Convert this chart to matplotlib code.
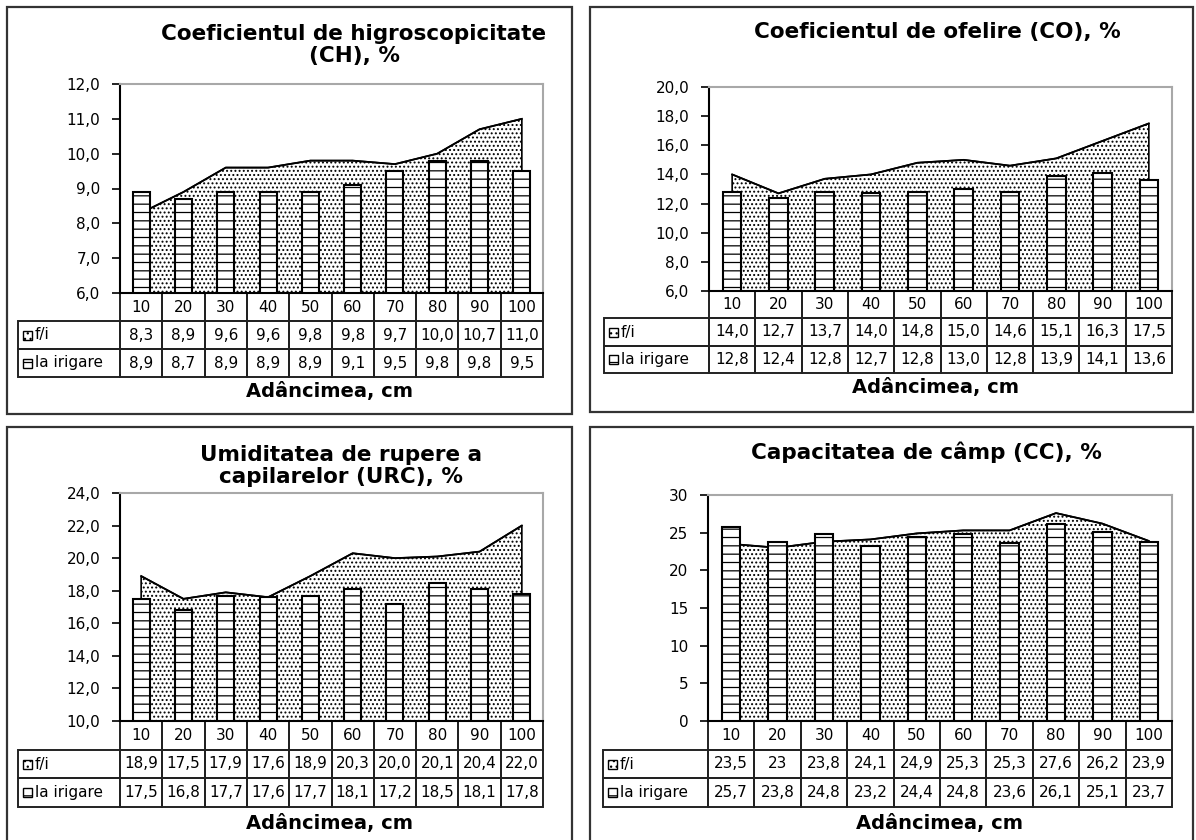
import matplotlib.pyplot as plt
from matplotlib.patches import Rectangle
from matplotlib.ticker import FuncFormatter, MultipleLocator

W, H = 1196, 840

depth = ['10', '20', '30', '40', '50', '60', '70', '80', '90', '100']

ch_fi = [8.3, 8.9, 9.6, 9.6, 9.8, 9.8, 9.7, 10.0, 10.7, 11.0]
ch_irig = [8.9, 8.7, 8.9, 8.9, 8.9, 9.1, 9.5, 9.8, 9.8, 9.5]
co_fi = [14.0, 12.7, 13.7, 14.0, 14.8, 15.0, 14.6, 15.1, 16.3, 17.5]
co_irig = [12.8, 12.4, 12.8, 12.7, 12.8, 13.0, 12.8, 13.9, 14.1, 13.6]
urc_fi = [18.9, 17.5, 17.9, 17.6, 18.9, 20.3, 20.0, 20.1, 20.4, 22.0]
urc_irig = [17.5, 16.8, 17.7, 17.6, 17.7, 18.1, 17.2, 18.5, 18.1, 17.8]
cc_fi = [23.5, 23, 23.8, 24.1, 24.9, 25.3, 25.3, 27.6, 26.2, 23.9]
cc_irig = [25.7, 23.8, 24.8, 23.2, 24.4, 24.8, 23.6, 26.1, 25.1, 23.7]

row_names = ['f/i', 'la irigare']
xlabel = 'Adâncimea, cm'

titles = ['Coeficientul de higroscopicitate\n(CH), %',
          'Coeficientul de ofelire (CO), %',
          'Umiditatea de rupere a\ncapilarelor (URC), %',
          'Capacitatea de câmp (CC), %']

plt.rcParams['hatch.linewidth'] = 0.9

fig = plt.figure(figsize=(W / 100, H / 100), dpi=100)


def fmt_num(v, style):
    if style == 'g':
        s = '%g' % v
    else:
        s = '%.1f' % v
    return s.replace('.', ',')


# panel layout in pixels: box, axes (l, t, r, b), label col left, table bottom,
# title centre (x, y), xlabel centre (x, y)
panels = [
    dict(title=titles[0], fi=ch_fi, irig=ch_irig, ylim=(6, 12), step=1, style='f',
         box=(7, 7, 572, 414), ax=(120, 84, 543, 293), lab=18, tb=377,
         tpos=(354, 45), xpos=(329, 392)),
    dict(title=titles[1], fi=co_fi, irig=co_irig, ylim=(6, 20), step=2, style='f',
         box=(590, 7, 1193, 412), ax=(709, 87, 1172, 291), lab=604, tb=373,
         tpos=(937, 32), xpos=(936, 388)),
    dict(title=titles[2], fi=urc_fi, irig=urc_irig, ylim=(10, 24), step=2, style='f',
         box=(7, 427, 572, 860), ax=(120, 493, 543, 721), lab=18, tb=807,
         tpos=(341, 466), xpos=(329, 823)),
    dict(title=titles[3], fi=cc_fi, irig=cc_irig, ylim=(0, 30), step=5, style='g',
         box=(590, 427, 1193, 860), ax=(708, 495, 1172, 721), lab=603, tb=807,
         tpos=(926, 452), xpos=(940, 823)),
]

for p in panels:
    bx0, by0, bx1, by1 = p['box']
    fig.patches.append(Rectangle((bx0 / W, 1 - by1 / H), (bx1 - bx0) / W, (by1 - by0) / H,
                                 transform=fig.transFigure, fill=False,
                                 edgecolor='#333333', linewidth=1.6))

    l, t, r, b = p['ax']
    ax = fig.add_axes([l / W, 1 - b / H, (r - l) / W, (b - t) / H])
    n = len(depth)
    x = list(range(n))
    y0 = p['ylim'][0]

    ax.fill_between(x, y0, p['fi'], facecolor='white', edgecolor='black',
                    hatch='....', linewidth=1.2, zorder=1)
    ax.plot(x, p['fi'], color='black', linewidth=1.3, zorder=2)
    ax.bar(x, [v - y0 for v in p['irig']], bottom=y0, width=0.4, facecolor='white',
           edgecolor='black', hatch='--', linewidth=1.5, zorder=3)

    ax.set_xlim(-0.5, n - 0.5)
    ax.set_ylim(*p['ylim'])
    ax.yaxis.set_major_locator(MultipleLocator(p['step']))
    ax.yaxis.set_major_formatter(FuncFormatter(lambda v, pos, s=p['style']: fmt_num(v, s)))
    ax.set_xticks([])
    ax.tick_params(axis='y', direction='out', length=6, width=1.2, labelsize=11, pad=8)
    for side in ['top', 'right']:
        ax.spines[side].set_color('#a8a8a8')
        ax.spines[side].set_linewidth(1.5)
    ax.spines['left'].set_linewidth(1.5)
    ax.spines['bottom'].set_linewidth(1.5)

    # data table under the plot, drawn in axes coordinates
    aw, ah = r - l, b - t
    lw = (l - p['lab']) / aw
    rh = (p['tb'] - b) / 3 / ah
    cw = 1.0 / n
    cell = dict(transform=ax.transAxes, clip_on=False, fill=False,
                edgecolor='#222222', linewidth=1.4)
    txt = dict(transform=ax.transAxes, clip_on=False, fontsize=11, va='center')
    for j, d in enumerate(depth):
        ax.add_patch(Rectangle((j * cw, -rh), cw, rh, **cell))
        ax.text((j + 0.5) * cw, -0.5 * rh, d, ha='center', **txt)
    for i, vals in enumerate([p['fi'], p['irig']]):
        yb = -(i + 2) * rh
        ax.add_patch(Rectangle((-lw, yb), lw, rh, **cell))
        ax.add_patch(Rectangle((-lw + 5 / aw, yb + rh / 2 - 4.5 / ah), 9 / aw, 9 / ah,
                               transform=ax.transAxes, clip_on=False, facecolor='white',
                               edgecolor='black', linewidth=1.0,
                               hatch=['...', '--'][i]))
        ax.text(-lw + 17 / aw, yb + rh / 2, row_names[i], ha='left', **txt)
        for j, v in enumerate(vals):
            ax.add_patch(Rectangle((j * cw, yb), cw, rh, **cell))
            ax.text((j + 0.5) * cw, yb + rh / 2, fmt_num(v, p['style']), ha='center', **txt)

    fig.text(p['tpos'][0] / W, 1 - p['tpos'][1] / H, p['title'], ha='center', va='center',
             fontsize=15.5, fontweight='bold', linespacing=1.15)
    fig.text(p['xpos'][0] / W, 1 - p['xpos'][1] / H, xlabel, ha='center', va='center',
             fontsize=14, fontweight='bold')

fig.savefig('out.png', dpi=100)
